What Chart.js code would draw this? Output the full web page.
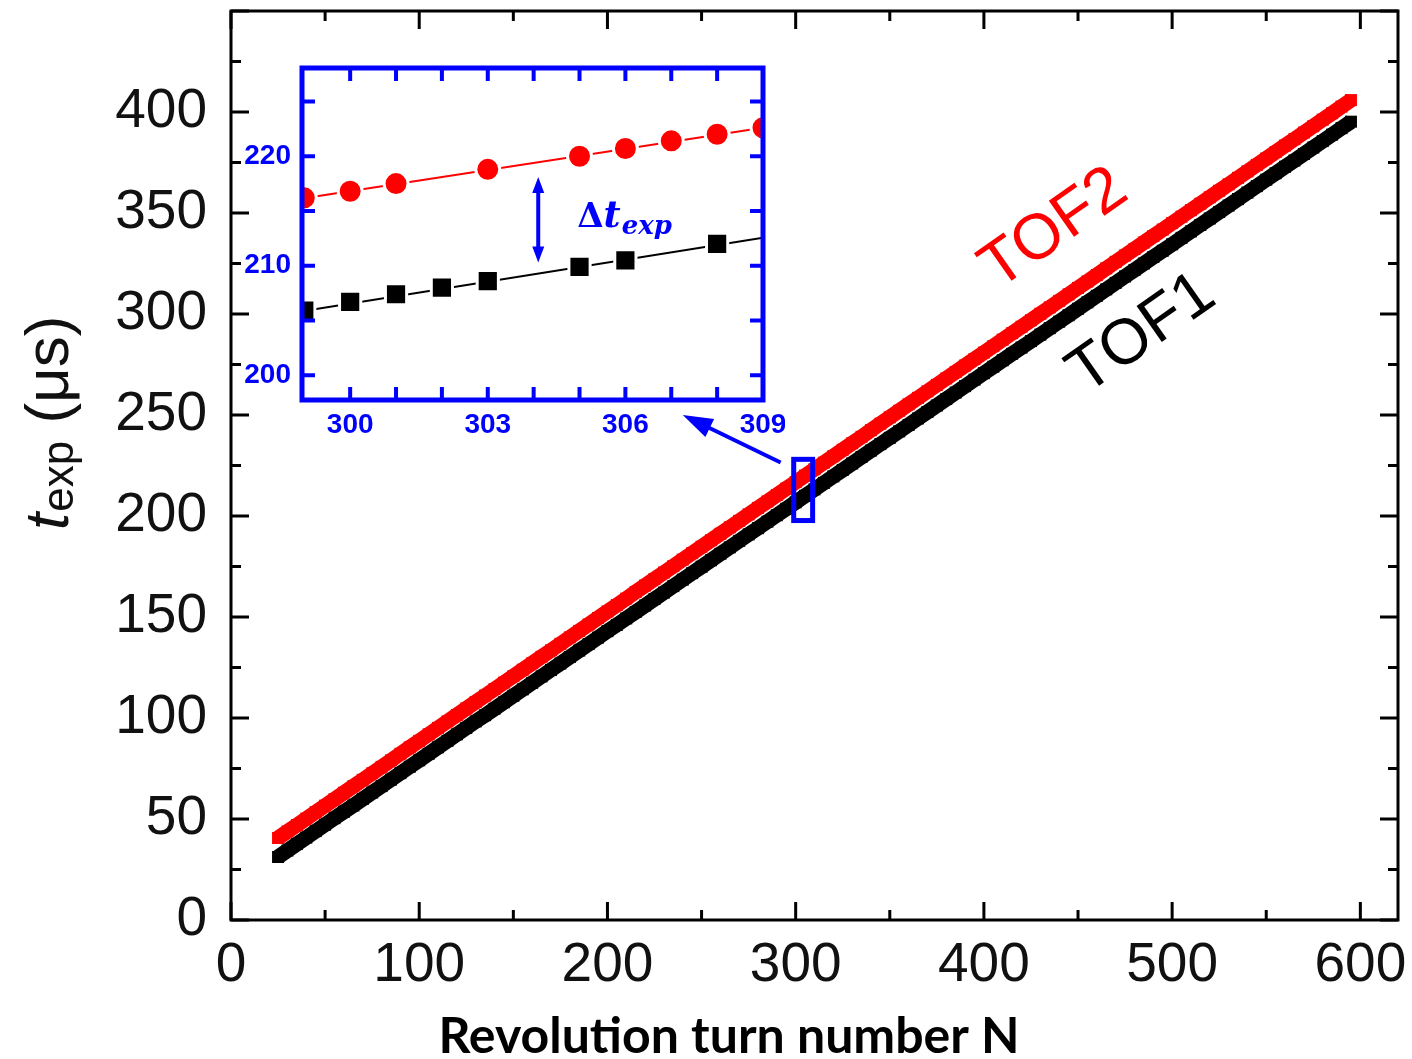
<!DOCTYPE html>
<html><head><meta charset="utf-8">
<script src="https://cdn.jsdelivr.net/npm/chart.js@4.4.1/dist/chart.umd.min.js"></script>
<style>
html,body{margin:0;padding:0;background:#fff;}
#wrap{position:relative;width:1412px;height:1059px;overflow:hidden;}
#main{position:absolute;left:0;top:0;}
#inset{position:absolute;left:225px;top:50px;}
</style></head><body>
<div id="wrap"><canvas id="main" width="1412" height="1059"></canvas><canvas id="inset" width="560" height="400"></canvas></div>
<script>
// ---------- main chart data ----------
const turnN = [25,30,35,40,45,50,55,60,65,70,75,80,85,90,95,100,105,110,115,120,125,130,135,140,145,150,155,160,165,170,175,180,185,190,195,200,205,210,215,220,225,230,235,240,245,250,255,260,265,270,275,280,285,290,295,300,305,310,315,320,325,330,335,340,345,350,355,360,365,370,375,380,385,390,395,400,405,410,415,420,425,430,435,440,445,450,455,460,465,470,475,480,485,490,495,500,505,510,515,520,525,530,535,540,545,550,555,560,565,570,575,580,585,590,595];
const tof1 = [31.2,34.4,37.6,40.8,44.0,47.2,50.4,53.6,56.7,59.9,63.1,66.3,69.5,72.7,75.9,79.1,82.3,85.5,88.7,91.9,95.1,98.3,101.4,104.6,107.8,111.0,114.2,117.4,120.6,123.8,127.0,130.2,133.4,136.6,139.8,143.0,146.1,149.3,152.5,155.7,158.9,162.1,165.3,168.5,171.7,174.9,178.1,181.3,184.5,187.7,190.9,194.0,197.2,200.4,203.6,206.8,210.0,213.2,216.4,219.6,222.8,226.0,229.2,232.4,235.6,238.7,241.9,245.1,248.3,251.5,254.7,257.9,261.1,264.3,267.5,270.7,273.9,277.1,280.3,283.4,286.6,289.8,293.0,296.2,299.4,302.6,305.8,309.0,312.2,315.4,318.6,321.8,325.0,328.2,331.3,334.5,337.7,340.9,344.1,347.3,350.5,353.7,356.9,360.1,363.3,366.5,369.7,372.9,376.0,379.2,382.4,385.6,388.8,392.0,395.2];
const tof2 = [40.6,43.8,47.0,50.2,53.4,56.6,59.8,63.0,66.2,69.4,72.6,75.8,79.0,82.3,85.5,88.7,91.9,95.1,98.3,101.5,104.7,107.9,111.1,114.3,117.5,120.7,123.9,127.1,130.3,133.5,136.7,139.9,143.1,146.3,149.5,152.7,155.9,159.1,162.4,165.6,168.8,172.0,175.2,178.4,181.6,184.8,188.0,191.2,194.4,197.6,200.8,204.0,207.2,210.4,213.6,216.8,220.0,223.2,226.4,229.6,232.8,236.0,239.2,242.5,245.7,248.9,252.1,255.3,258.5,261.7,264.9,268.1,271.3,274.5,277.7,280.9,284.1,287.3,290.5,293.7,296.9,300.1,303.3,306.5,309.7,312.9,316.1,319.3,322.6,325.8,329.0,332.2,335.4,338.6,341.8,345.0,348.2,351.4,354.6,357.8,361.0,364.2,367.4,370.6,373.8,377.0,380.2,383.4,386.6,389.8,393.0,396.2,399.4,402.7,405.9];
const xTickLabels = [0,100,200,300,400,500,600];
const yTickLabels = [0,50,100,150,200,250,300,350,400];
const xTitle = 'Revolution turn number N';

// ---------- inset data ----------
const insetRedN = [299,300,301,303,305,306,307,308,309];
const insetRedT = [216.2,216.8,217.5,218.8,220.0,220.7,221.4,222.0,222.6];
const insetBlackN = [299,300,301,302,303,305,306,308];
const insetBlackT = [205.9,206.7,207.4,208.0,208.6,209.9,210.5,212.0];
const insetFitN = [298.95,309.0];
const insetRedFitT = [216.15,222.6];
const insetBlackFitT = [205.85,212.55];
const insetXTickLabels = [300,303,306,309];
const insetYTickLabels = [200,210,220];
const insetRangeN = [298.95,309.0];
const insetRangeT = [197.75,228.05];
const deltaArrowN = 304.1, deltaArrowT = [210.3,218.1];

const FONT = "'Liberation Sans', Arial, sans-serif";
const BLUE = '#0000ff';
const toXY = (xs, ys) => xs.map((x,i)=>({x:x, y:ys[i]}));
const noPad = s => { s.paddingTop = 0; s.paddingBottom = 0; s.paddingLeft = 0; s.paddingRight = 0; };

function drawArrowHead(ctx, x1, y1, x2, y2, len, wid){
  const a = Math.atan2(y2-y1, x2-x1);
  ctx.beginPath();
  ctx.moveTo(x2, y2);
  ctx.lineTo(x2 - len*Math.cos(a) + wid/2*Math.sin(a), y2 - len*Math.sin(a) - wid/2*Math.cos(a));
  ctx.lineTo(x2 - len*Math.cos(a) - wid/2*Math.sin(a), y2 - len*Math.sin(a) + wid/2*Math.cos(a));
  ctx.closePath(); ctx.fill();
}

const mainDecor = {
  id:'mainDecor',
  afterDatasetsDraw(chart){
    const ctx = chart.ctx, xs = chart.scales.x, ys = chart.scales.y;
    const {left,right,top,bottom} = chart.chartArea;
    ctx.save();
    ctx.strokeStyle = '#000'; ctx.lineWidth = 3;
    ctx.strokeRect(left, top, right-left, bottom-top);
    ctx.beginPath();
    for (let v=0; v<=600; v+=50){
      const px = xs.getPixelForValue(v), L = (v%100===0)?18:10;
      ctx.moveTo(px, bottom); ctx.lineTo(px, bottom-L);
      ctx.moveTo(px, top); ctx.lineTo(px, top+L);
    }
    for (let v=0; v<=450; v+=25){
      const py = ys.getPixelForValue(v), L = (v%50===0)?18:10;
      ctx.moveTo(left, py); ctx.lineTo(left+L, py);
      ctx.moveTo(right, py); ctx.lineTo(right-L, py);
    }
    ctx.stroke();
    // zoom rectangle
    const rx1 = xs.getPixelForValue(insetRangeN[0]), rx2 = xs.getPixelForValue(insetRangeN[1]);
    const ry1 = ys.getPixelForValue(insetRangeT[1]), ry2 = ys.getPixelForValue(insetRangeT[0]);
    ctx.strokeStyle = BLUE; ctx.lineWidth = 5;
    ctx.strokeRect(rx1, ry1, rx2-rx1, ry2-ry1);
    // pointer arrow
    const ax1 = xs.getPixelForValue(292), ay1 = ys.getPixelForValue(226.5);
    const ax2 = xs.getPixelForValue(240), ay2 = ys.getPixelForValue(250);
    const d = Math.hypot(ax1-ax2, ay1-ay2);
    ctx.lineWidth = 4; ctx.fillStyle = BLUE;
    ctx.beginPath(); ctx.moveTo(ax1, ay1); ctx.lineTo(ax2 + 20*(ax1-ax2)/d, ay2 + 20*(ay1-ay2)/d); ctx.stroke();
    drawArrowHead(ctx, ax1, ay1, ax2, ay2, 30, 20);
    // series labels
    ctx.font = '64px ' + FONT; ctx.textAlign = 'center'; ctx.textBaseline = 'middle';
    ctx.save(); ctx.translate(xs.getPixelForValue(437.4), ys.getPixelForValue(342)); ctx.rotate(-35*Math.PI/180);
    ctx.fillStyle = '#ff0000'; ctx.fillText('TOF2', 0, 0); ctx.restore();
    ctx.save(); ctx.translate(xs.getPixelForValue(484), ys.getPixelForValue(290)); ctx.rotate(-35*Math.PI/180);
    ctx.fillStyle = '#000'; ctx.fillText('TOF1', 0, 0); ctx.restore();
    // y-axis title
    ctx.save(); ctx.translate(68, 530); ctx.rotate(-Math.PI/2);
    ctx.fillStyle = '#111'; ctx.textAlign = 'left'; ctx.textBaseline = 'alphabetic';
    ctx.font = 'italic 62px ' + FONT; ctx.fillText('t', 0, 0); let w = ctx.measureText('t').width;
    ctx.font = '44px ' + FONT; ctx.fillText('exp', w+1, 5); w += ctx.measureText('exp').width + 1;
    ctx.font = '62px ' + FONT; ctx.fillText(' (μs)', w, 0);
    ctx.restore();
    // x-axis title
    ctx.fillStyle = '#000'; ctx.textAlign = 'center'; ctx.textBaseline = 'alphabetic';
    ctx.font = "bold 50px Lato, 'Open Sans', sans-serif";
    ctx.fillText(xTitle, 729, 1053);
    ctx.restore();
  }
};

new Chart(document.getElementById('main'), {
  type:'scatter',
  data:{datasets:[
    {label:'TOF1', data:toXY(turnN,tof1), showLine:true, borderColor:'#000', backgroundColor:'#000', borderWidth:15,
     pointStyle:'rect', pointRadius:8.5, pointBorderWidth:0, pointBackgroundColor:'#000'},
    {label:'TOF2', data:toXY(turnN,tof2), showLine:true, borderColor:'#ff0000', backgroundColor:'#ff0000', borderWidth:15,
     pointStyle:'rect', pointRadius:8.5, pointBorderWidth:0, pointBackgroundColor:'#ff0000'}
  ]},
  options:{
    responsive:false, animation:false, devicePixelRatio:1,
    layout:{padding:{top:11,right:14,left:0,bottom:0}},
    plugins:{legend:{display:false}, tooltip:{enabled:false}},
    scales:{
      x:{type:'linear', min:0, max:620, grid:{display:false, drawTicks:false}, border:{display:false},
         ticks:{padding:13, color:'#111', autoSkip:false, maxRotation:0, font:{family:FONT, size:55}},
         afterBuildTicks:s=>{s.ticks = xTickLabels.map(v=>({value:v}));},
         afterFit:s=>{s.height = 139; noPad(s);}},
      y:{type:'linear', min:0, max:450, grid:{display:false, drawTicks:false}, border:{display:false},
         ticks:{padding:24, color:'#111', autoSkip:false, font:{family:FONT, size:55}},
         afterBuildTicks:s=>{s.ticks = yTickLabels.map(v=>({value:v}));},
         afterFit:s=>{s.width = 231; noPad(s);}}
    }
  },
  plugins:[mainDecor]
});

// ---------- inset ----------
const insetDecor = {
  id:'insetDecor',
  beforeDatasetsDraw(chart){
    const {left,right,top,bottom} = chart.chartArea, ctx = chart.ctx;
    ctx.save(); ctx.fillStyle = '#fff'; ctx.fillRect(left,top,right-left,bottom-top); ctx.restore();
  },
  afterDatasetsDraw(chart){
    const ctx = chart.ctx, xs = chart.scales.x, ys = chart.scales.y;
    const {left,right,top,bottom} = chart.chartArea;
    ctx.save();
    ctx.strokeStyle = BLUE; ctx.fillStyle = BLUE;
    ctx.lineWidth = 4;
    ctx.beginPath();
    for (let v=300; v<=308; v++){
      const px = xs.getPixelForValue(v);
      ctx.moveTo(px, bottom); ctx.lineTo(px, bottom-13);
      ctx.moveTo(px, top); ctx.lineTo(px, top+13);
    }
    for (let v=200; v<=225; v+=5){
      const py = ys.getPixelForValue(v);
      ctx.moveTo(left, py); ctx.lineTo(left+13, py);
      ctx.moveTo(right, py); ctx.lineTo(right-13, py);
    }
    ctx.stroke();
    ctx.lineWidth = 5;
    ctx.strokeRect(left, top, right-left, bottom-top);
    // delta arrow
    const ax = xs.getPixelForValue(deltaArrowN);
    const ay1 = ys.getPixelForValue(deltaArrowT[0]), ay2 = ys.getPixelForValue(deltaArrowT[1]);
    ctx.lineWidth = 4;
    ctx.beginPath(); ctx.moveTo(ax, ay1-10); ctx.lineTo(ax, ay2+10); ctx.stroke();
    drawArrowHead(ctx, ax, ay1-20, ax, ay1, 16, 12);
    drawArrowHead(ctx, ax, ay2+20, ax, ay2, 16, 12);
    // label
    const tx = xs.getPixelForValue(304.95), ty = ys.getPixelForValue(213.5);
    ctx.textAlign = 'left'; ctx.textBaseline = 'alphabetic';
    const SERIF = "'DejaVu Serif', 'Liberation Serif', serif";
    ctx.font = 'bold 34px ' + SERIF; ctx.fillText('Δ', tx, ty); let w = ctx.measureText('Δ').width;
    ctx.font = 'italic bold 37px ' + SERIF; ctx.fillText('t', tx+w, ty); w += ctx.measureText('t').width;
    ctx.font = 'italic bold 26px ' + SERIF; ctx.fillText('exp', tx+w+1, ty+7);
    ctx.restore();
  }
};

new Chart(document.getElementById('inset'), {
  type:'scatter',
  data:{datasets:[
    {label:'TOF1 inset', data:toXY(insetBlackN,insetBlackT), showLine:false, pointStyle:'rect', pointRadius:15,
     pointBackgroundColor:'#000', pointBorderColor:'#fff', pointBorderWidth:3, clip:0},
    {label:'TOF2 inset', data:toXY(insetRedN,insetRedT), showLine:false, pointStyle:'circle', pointRadius:12,
     pointBackgroundColor:'#ff0000', pointBorderColor:'#fff', pointBorderWidth:3, clip:0},
    {label:'TOF1 fit', data:toXY(insetFitN,insetBlackFitT), showLine:true, borderColor:'#000', borderWidth:2, pointRadius:0, clip:0},
    {label:'TOF2 fit', data:toXY(insetFitN,insetRedFitT), showLine:true, borderColor:'#ff0000', borderWidth:2, pointRadius:0, clip:0}
  ]},
  options:{
    responsive:false, animation:false, devicePixelRatio:1,
    layout:{padding:{top:13,right:22,left:0,bottom:0}},
    plugins:{legend:{display:false}, tooltip:{enabled:false}},
    scales:{
      x:{type:'linear', min:insetRangeN[0], max:insetRangeN[1], grid:{display:false, drawTicks:false}, border:{display:false},
         ticks:{padding:8, color:BLUE, autoSkip:false, maxRotation:0, font:{family:FONT, size:28, weight:'bold'}},
         afterBuildTicks:s=>{s.ticks = insetXTickLabels.map(v=>({value:v}));},
         afterFit:s=>{s.height = 50; noPad(s);}},
      y:{type:'linear', min:insetRangeT[0], max:insetRangeT[1], grid:{display:false, drawTicks:false}, border:{display:false},
         ticks:{padding:11, color:BLUE, autoSkip:false, font:{family:FONT, size:28, weight:'bold'}},
         afterBuildTicks:s=>{s.ticks = insetYTickLabels.map(v=>({value:v}));},
         afterFit:s=>{s.width = 77; noPad(s);}}
    }
  },
  plugins:[insetDecor]
});
</script>
</body></html>
